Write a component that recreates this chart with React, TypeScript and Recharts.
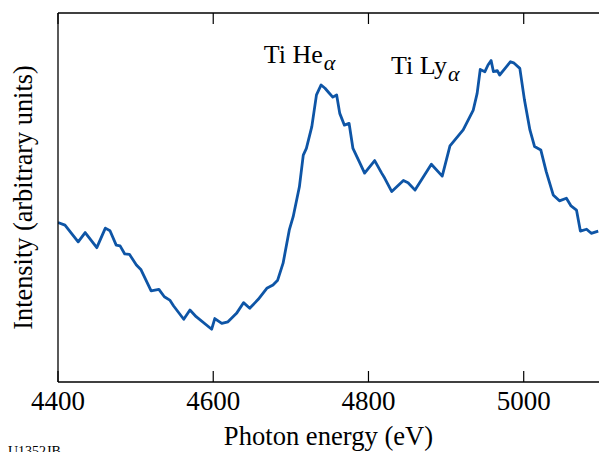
import React from 'react';
import {LineChart, Line, XAxis, YAxis, ReferenceDot} from 'recharts';

// photon energy (eV) and intensity (arbitrary units, 0-100)
const energy: number[] = [
    4400, 4409, 4426, 4435, 4450, 4461, 4467, 4475, 4480, 4486,
    4492, 4501, 4507, 4520, 4530, 4537, 4544, 4549, 4562, 4570,
    4578, 4598, 4602, 4611, 4619, 4630, 4639, 4647, 4658, 4669,
    4677, 4683, 4690, 4698, 4703, 4711, 4716, 4720, 4727, 4733,
    4739, 4744, 4749, 4754, 4759, 4763, 4769, 4775, 4780, 4789,
    4795, 4808, 4817, 4821, 4830, 4845, 4851, 4860, 4881, 4895,
    4905, 4922, 4935, 4940, 4944, 4950, 4954, 4958, 4961, 4966,
    4969, 4976, 4983, 4987, 4995, 5001, 5008, 5014, 5022, 5029,
    5038, 5046, 5055, 5061, 5068, 5073, 5081, 5087, 5096
];

const intensity: number[] = [
    43.2, 42.5, 38.0, 40.5, 36.4, 41.7, 41.0, 37.1, 36.9, 34.7,
    34.6, 31.7, 30.4, 24.7, 25.1, 23.1, 22.2, 20.6, 17.0, 19.5,
    17.7, 14.3, 17.2, 15.9, 16.3, 18.6, 21.5, 20.0, 22.4, 25.4,
    26.3, 27.6, 32.2, 41.2, 44.8, 52.9, 61.5, 63.3, 69.2, 77.8,
    80.5, 79.6, 78.4, 77.2, 77.8, 72.8, 69.6, 70.1, 63.3, 59.3,
    56.6, 60.0, 56.6, 55.2, 51.6, 54.6, 54.0, 52.0, 59.0, 55.8,
    64.0, 68.3, 73.7, 78.2, 84.7, 84.1, 85.9, 87.1, 84.1, 84.4,
    83.2, 85.0, 86.8, 86.5, 85.0, 76.4, 68.3, 63.8, 62.9, 57.0,
    50.7, 49.1, 49.8, 47.7, 46.6, 40.9, 41.4, 40.3, 40.9
];

const xTicks: number[] = [4400, 4600, 4800, 5000];

const data = energy.map((e, i) => ({energy: e, intensity: intensity[i]}));

const FONT = '"Liberation Serif", "Times New Roman", serif';
const BLUE = '#0e55a6';

function BottomTick(props: any) {
    const {x, y, payload} = props;
    return (
        <g>
            <line x1={x} y1={y} x2={x} y2={y - 11} stroke="#000" strokeWidth={1.2} />
            <text x={x} y={y + 28} textAnchor="middle" fontFamily={FONT} fontSize={27} fill="#000">
                {payload.value}
            </text>
        </g>
    );
}

function TopTick(props: any) {
    const {x, y} = props;
    return <line x1={x} y1={y} x2={x} y2={y + 11} stroke="#000" strokeWidth={1.2} />;
}

function peakLabel(name: string) {
    return (p: any) => (
        <text x={p.cx} y={p.cy} fontFamily={FONT} fontSize={26} fill="#000">
            {name}
            <tspan dx={1} dy={7} fontSize={22} fontStyle="italic">α</tspan>
        </text>
    );
}

function YLabel(props: any) {
    const vb = props.viewBox;
    const cy = vb.y + vb.height / 2;
    return (
        <text transform={`translate(31.5, ${cy}) rotate(-90)`} textAnchor="middle"
              fontFamily={FONT} fontSize={26.3} fill="#000">
            Intensity (arbitrary units)
        </text>
    );
}

function XLabel(props: any) {
    const vb = props.viewBox;
    return (
        <text x={vb.x + vb.width / 2} y={445} textAnchor="middle" fontFamily={FONT} fontSize={26.6} fill="#000">
            Photon energy (eV)
        </text>
    );
}

function App() {
    return (
        <div style={{position: 'absolute', left: 0, top: 0, width: 599, height: 452, background: '#fff'}}>
            <LineChart width={599} height={452} data={data} margin={{top: 0, right: 0, bottom: 0, left: 0}}>
                <XAxis dataKey="energy" type="number" domain={[4400, 5097]} ticks={xTicks} interval={0}
                       allowDataOverflow height={70} tickSize={0} tickMargin={0} tickLine={false}
                       axisLine={{stroke: '#000', strokeWidth: 1.3}} tick={<BottomTick />}
                       label={<XLabel />} />
                <XAxis xAxisId="top" orientation="top" dataKey="energy" type="number" domain={[4400, 5097]}
                       ticks={xTicks} interval={0} allowDataOverflow height={13} tickSize={0} tickMargin={0}
                       tickLine={false} axisLine={{stroke: '#000', strokeWidth: 1.3}} tick={<TopTick />} />
                <YAxis type="number" domain={[0, 100]} width={58} tick={false} tickLine={false}
                       axisLine={{stroke: '#000', strokeWidth: 1.3}} label={<YLabel />} />
                <Line type="linear" dataKey="intensity" stroke={BLUE} strokeWidth={2.8} dot={false}
                      strokeLinejoin="round" isAnimationActive={false} />
                <ReferenceDot x={4665} y={86.4} r={0} shape={peakLabel('Ti He')} />
                <ReferenceDot x={4829} y={83.5} r={0} shape={peakLabel('Ti Ly')} />
            </LineChart>
            <div style={{position: 'absolute', left: 8, top: 444, fontFamily: FONT, fontSize: 14, color: '#000', lineHeight: '16px'}}>
                U1352JB
            </div>
        </div>
    );
}

export default App;
